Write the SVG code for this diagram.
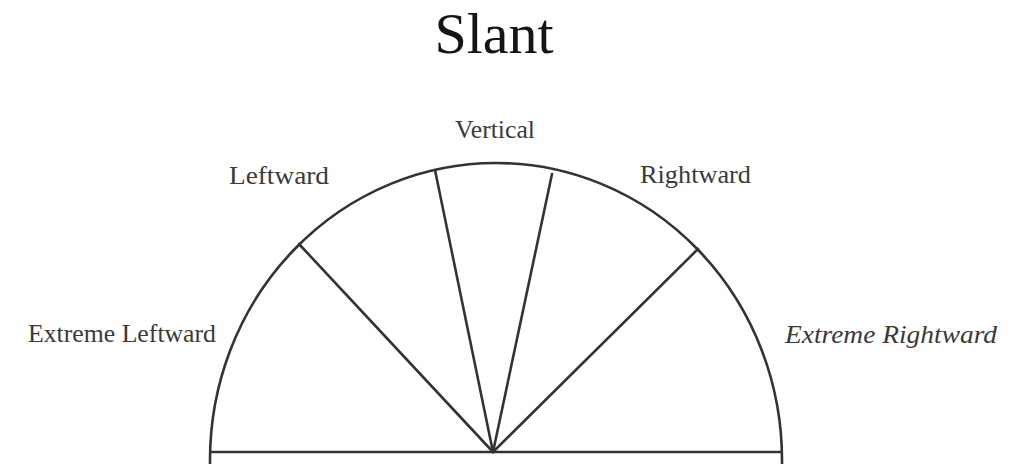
<svg xmlns="http://www.w3.org/2000/svg" width="1012" height="464" viewBox="0 0 1012 464">
<style>
.ln{stroke:#333;stroke-width:2.6;fill:none;stroke-linecap:round}
.lbl{font-family:"Liberation Serif","Times New Roman",serif;font-size:25px;fill:#3a3a3a}
.it{font-style:italic}
.ttl{font-family:"Liberation Serif","Times New Roman",serif;font-size:58px;fill:#151515}
</style>
<rect width="1012" height="464" fill="#fff"/>
<text class="ttl" x="494" y="53" text-anchor="middle">Slant</text>
<g id="diagram">
<path class="ln" d="M210,464 L210,460 A286,297 0 0 1 782,460 L782,464"/>
<line class="ln" x1="212" y1="452" x2="780" y2="452"/>
</g>
<g id="connectors">
<line class="ln" x1="493" y1="452" x2="299" y2="244"/>
<line class="ln" x1="493" y1="452" x2="435" y2="170"/>
<line class="ln" x1="493" y1="452" x2="552" y2="174"/>
<line class="ln" x1="493" y1="452" x2="698" y2="249"/>
</g>
<g id="label-vertical"><text class="lbl" x="455" y="138" textLength="80" lengthAdjust="spacingAndGlyphs">Vertical</text></g>
<g id="label-leftward"><text class="lbl" x="229" y="184" textLength="100" lengthAdjust="spacingAndGlyphs">Leftward</text></g>
<g id="label-rightward"><text class="lbl" x="640" y="183" textLength="111" lengthAdjust="spacingAndGlyphs">Rightward</text></g>
<g id="label-extreme-leftward"><text class="lbl" x="28" y="342" textLength="188" lengthAdjust="spacingAndGlyphs">Extreme Leftward</text></g>
<g id="label-extreme-rightward"><text class="lbl it" x="785" y="343" textLength="212" lengthAdjust="spacingAndGlyphs">Extreme Rightward</text></g>
</svg>
